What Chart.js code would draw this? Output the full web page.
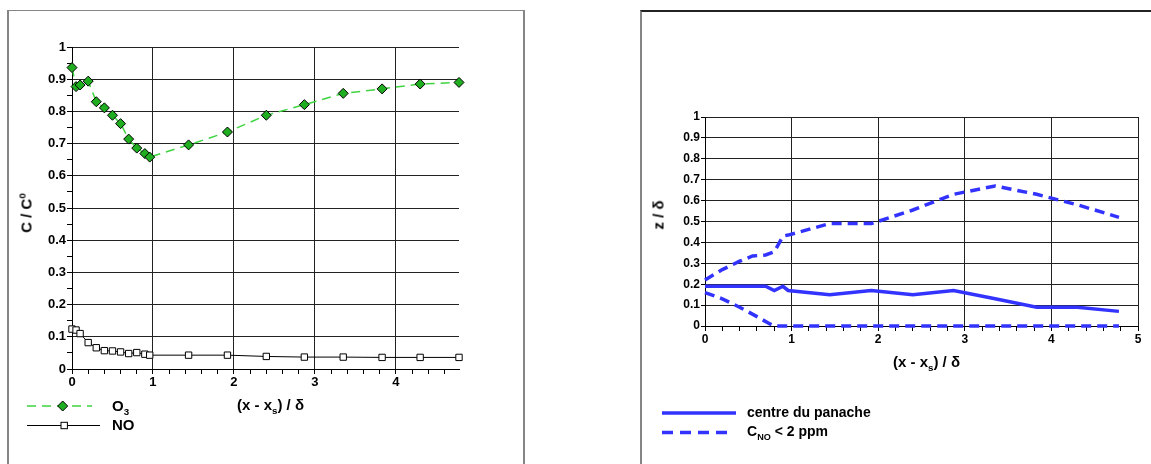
<!doctype html>
<html>

<head>
    <title>O3 / NO</title>
    <script src="https://cdn.jsdelivr.net/npm/chart.js@4.4.1/dist/chart.umd.min.js"></script>
    <style>
        * {
            font-family: Arial, "Liberation Sans", Helvetica, sans-serif;
        }

        body {
            margin: 0;
            background: #fff;
        }

        #wrap {
            position: relative;
            width: 1151px;
            height: 464px;
            overflow: hidden;
        }

        .panel, canvas, .txt, svg {
            position: absolute;
        }

        #p1 {
            left: 7px;
            top: 10px;
            width: 514px;
            height: 480px;
            border: 2px solid #858585;
            border-top-width: 1.5px;
        }

        #p2 {
            left: 640px;
            top: 10px;
            width: 540px;
            height: 480px;
            border-left: 2px solid #858585;
            border-top: 2px solid #222;
        }

        .txt {
            font-weight: bold;
            color: #000;
            white-space: nowrap;
            line-height: 1;
        }

        .txt sub, .txt sup {
            font-size: 65%;
            line-height: 0;
        }

        .rot {
            transform: translate(-50%, -50%) rotate(-90deg);
        }
    </style>
</head>

<body>
    <div id="wrap">
        <div class="panel" id="p1"></div>
        <div class="panel" id="p2"></div>
        <canvas id="chartLeft" width="530" height="464" style="left:0;top:0"></canvas>
        <canvas id="chartRight" width="551" height="464" style="left:600px;top:0"></canvas>

        <div class="txt rot" style="left:26px;top:213px;font-size:15px">C / C<sup>0</sup></div>
        <div class="txt" style="left:237px;top:397px;font-size:15px">(x - x<sub>s</sub>) / δ</div>
        <div class="txt rot" style="left:658px;top:215px;font-size:15px">z / δ</div>
        <div class="txt" style="left:893px;top:354px;font-size:15px">(x - x<sub>s</sub>) / δ</div>

        <svg width="90" height="40" style="left:20px;top:396px">
            <line x1="7" y1="10" x2="72" y2="10" stroke="#3fd43f" stroke-width="1.5" stroke-dasharray="9,6"></line>
            <polygon points="42.7,5 47.7,10 42.7,15 37.7,10" fill="#1fae1f" stroke="#000" stroke-width="1"></polygon>
            <line x1="7" y1="29.5" x2="80" y2="29.5" stroke="#000" stroke-width="1"></line>
            <rect x="41" y="26.3" width="6.4" height="6.4" fill="#fff" stroke="#000" stroke-width="1"></rect>
        </svg>
        <div class="txt" style="left:112px;top:398px;font-size:15px">O<sub>3</sub></div>
        <div class="txt" style="left:112px;top:417px;font-size:15px">NO</div>

        <svg width="90" height="40" style="left:655px;top:402px">
            <line x1="7" y1="11" x2="81" y2="11" stroke="#3333ff" stroke-width="3.5"></line>
            <line x1="7" y1="30.5" x2="73" y2="30.5" stroke="#3333ff" stroke-width="3.5" stroke-dasharray="11,7"></line>
        </svg>
        <div class="txt" style="left:747px;top:405px;font-size:14px">centre du panache</div>
        <div class="txt" style="left:747px;top:424px;font-size:14px">C<sub>NO</sub> &lt; 2 ppm</div>
    </div>

    <script>
        // distance (x - xs)/delta, shared by both series
        var xPos = [0, 0.05, 0.1, 0.2, 0.3, 0.4, 0.5, 0.6, 0.7, 0.8, 0.9, 0.96, 1.44, 1.92, 2.40, 2.87, 3.35, 3.83, 4.30, 4.78];
        var o3 = [0.936, 0.877, 0.882, 0.894, 0.830, 0.811, 0.788, 0.762, 0.714, 0.686, 0.669, 0.658, 0.696, 0.736, 0.788, 0.821, 0.856, 0.870, 0.885, 0.890];
        var no = [0.124, 0.121, 0.110, 0.082, 0.066, 0.057, 0.056, 0.053, 0.048, 0.051, 0.046, 0.043, 0.043, 0.043, 0.039, 0.037, 0.037, 0.036, 0.036, 0.036];

        // plume centre z/delta
        var centreX = [0, 0.7, 0.8, 0.9, 0.96, 1.44, 1.92, 2.40, 2.87, 3.35, 3.83, 4.30, 4.78];
        var centreZ = [0.19, 0.19, 0.17, 0.19, 0.17, 0.15, 0.17, 0.15, 0.17, 0.13, 0.09, 0.09, 0.07];

        // C_NO < 2 ppm limits
        var upperX = [0, 0.2, 0.4, 0.55, 0.7, 0.8, 0.9, 0.96, 1.44, 1.92, 2.40, 2.87, 3.35, 3.83, 4.30, 4.78];
        var upperZ = [0.22, 0.27, 0.31, 0.335, 0.34, 0.355, 0.43, 0.435, 0.49, 0.49, 0.555, 0.63, 0.67, 0.63, 0.58, 0.52];
        var lowerX = [0, 0.2, 0.4, 0.6, 0.75, 0.8, 1.44, 1.92, 2.40, 2.87, 3.35, 3.83, 4.30, 4.78];
        var lowerZ = [0.16, 0.13, 0.09, 0.045, 0.01, 0, 0, 0, 0, 0, 0, 0, 0, 0];

        Chart.defaults.font.family = 'Arial, "Liberation Sans", sans-serif';
        Chart.defaults.color = '#000';

        function xy(xs, ys) {
            return xs.map(function(x, i) { return {x: x, y: ys[i]}; });
        }

        function isMult(v, s) {
            return Math.abs(v / s - Math.round(v / s)) < 1e-6;
        }

        var clear = 'rgba(0,0,0,0)';
        var gridCol = '#222';

        new Chart(document.getElementById('chartLeft'), {
            type: 'scatter',
            data: {
                datasets: [{
                    label: 'O3',
                    data: xy(xPos, o3),
                    showLine: true,
                    borderColor: '#3fd43f',
                    borderWidth: 1.5,
                    borderDash: [9, 6],
                    pointStyle: 'rectRot',
                    pointRadius: 5,
                    pointBackgroundColor: '#1fae1f',
                    pointBorderColor: '#000',
                    pointBorderWidth: 1,
                    clip: false,
                }, {
                    label: 'NO',
                    data: xy(xPos, no),
                    showLine: true,
                    borderColor: '#000',
                    borderWidth: 1,
                    pointStyle: 'rect',
                    pointRadius: 4.5,
                    pointBackgroundColor: '#fff',
                    pointBorderColor: '#000',
                    pointBorderWidth: 1,
                    clip: false,
                }]
            },
            options: {
                responsive: false,
                animation: false,
                layout: { padding: { top: 47, right: 71, left: 0, bottom: 0 } },
                plugins: { legend: { display: false }, tooltip: { enabled: false } },
                scales: {
                    x: {
                        type: 'linear',
                        min: 0,
                        max: 4.78,
                        afterFit: function(s) { s.height = 95; },
                        border: { color: '#000', width: 1 },
                        grid: {
                            color: function(c) { return c.tick && c.tick.value > 0 && isMult(c.tick.value, 1) ? gridCol : clear; },
                            tickColor: '#000',
                            tickLength: 5,
                        },
                        ticks: {
                            stepSize: 0.2,
                            includeBounds: false,
                            autoSkip: false,
                            maxRotation: 0,
                            padding: 1,
                            font: { size: 13, weight: 'bold' },
                            callback: function(v) { return isMult(v, 1) ? String(Math.round(v)) : ''; }
                        }
                    },
                    y: {
                        min: 0,
                        max: 1,
                        afterFit: function(s) { s.width = 72; },
                        border: { color: '#000', width: 1 },
                        grid: {
                            color: function(c) { return c.tick && c.tick.value > 0 && isMult(c.tick.value, 0.1) ? gridCol : clear; },
                            tickColor: '#000',
                            tickLength: 5,
                        },
                        ticks: {
                            stepSize: 0.05,
                            autoSkip: false,
                            padding: 1,
                            font: { size: 13, weight: 'bold' },
                            callback: function(v) { return isMult(v, 0.1) ? String(Math.round(v * 10) / 10) : ''; }
                        }
                    }
                }
            }
        });

        var blue = '#3333ff';

        new Chart(document.getElementById('chartRight'), {
            type: 'scatter',
            data: {
                datasets: [{
                    label: 'centre du panache',
                    data: xy(centreX, centreZ),
                    showLine: true,
                    borderColor: blue,
                    borderWidth: 3.5,
                    pointRadius: 0,
                    clip: false,
                }, {
                    label: 'CNO < 2 ppm',
                    data: xy(upperX, upperZ),
                    showLine: true,
                    borderColor: blue,
                    borderWidth: 3.5,
                    borderDash: [10, 6],
                    pointRadius: 0,
                    clip: false,
                }, {
                    label: 'CNO < 2 ppm (bas)',
                    data: xy(lowerX, lowerZ),
                    showLine: true,
                    borderColor: blue,
                    borderWidth: 3.5,
                    borderDash: [10, 6],
                    pointRadius: 0,
                    clip: false,
                }]
            },
            options: {
                responsive: false,
                animation: false,
                layout: { padding: { top: 117, right: 13, left: 0, bottom: 0 } },
                plugins: { legend: { display: false }, tooltip: { enabled: false } },
                scales: {
                    x: {
                        type: 'linear',
                        min: 0,
                        max: 5,
                        afterFit: function(s) { s.height = 138; },
                        border: { color: '#000', width: 1 },
                        grid: {
                            color: function(c) { return c.tick && c.tick.value > 0 && isMult(c.tick.value, 1) ? gridCol : clear; },
                            tickColor: '#000',
                            tickLength: 5,
                        },
                        ticks: {
                            stepSize: 0.2,
                            autoSkip: false,
                            maxRotation: 0,
                            padding: 1,
                            font: { size: 12, weight: 'bold' },
                            callback: function(v) { return isMult(v, 1) ? String(Math.round(v)) : ''; }
                        }
                    },
                    y: {
                        min: 0,
                        max: 1,
                        afterFit: function(s) { s.width = 105; },
                        border: { color: '#000', width: 1 },
                        grid: {
                            color: function(c) { return c.tick && c.tick.value > 0 ? gridCol : clear; },
                            tickColor: '#000',
                            tickLength: 4,
                        },
                        ticks: {
                            stepSize: 0.1,
                            autoSkip: false,
                            padding: 1,
                            font: { size: 12, weight: 'bold' },
                            callback: function(v) { return String(Math.round(v * 10) / 10); }
                        }
                    }
                }
            }
        });
    </script>
</body>

</html>
